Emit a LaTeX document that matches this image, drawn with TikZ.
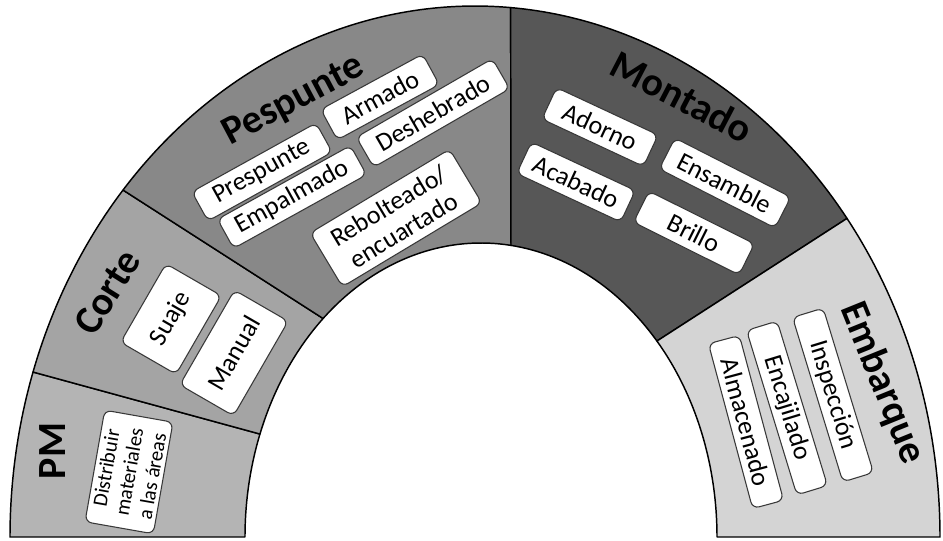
\documentclass[tikz,border=0pt]{standalone}
\usepackage{fontspec}
\setmainfont{Carlito}
\usetikzlibrary{calc}
\definecolor{pmc}{HTML}{B4B4B4}
\definecolor{cortec}{HTML}{A4A4A4}
\definecolor{pespc}{HTML}{888888}
\definecolor{montc}{HTML}{575757}
\definecolor{embc}{HTML}{D4D4D4}
\definecolor{boxline}{HTML}{383838}
\begin{document}
\begin{tikzpicture}[x=0.75pt,y=0.75pt,
  seg/.style={draw=black, line width=1.1pt, line join=round},
  box/.style={draw=boxline, fill=white, line width=0.8pt, rounded corners=5pt, inner sep=0pt, align=center, font=\fontsize{19.5}{21.5}\selectfont},
  smallbox/.style={box, font=\fontsize{15.5}{17.5}\selectfont},
  ttl/.style={font=\fontsize{30}{34}\selectfont\bfseries, inner sep=0pt}]
\useasboundingbox (0,0) rectangle (943,540);
\coordinate (Oc) at (475,3);
\coordinate (Ic) at (481,3);
% segments
\path[seg, fill=pmc] ($(Oc)+(180:465 and 531)$) arc[start angle=180, end angle=161.9, x radius=465, y radius=531] -- ($(Ic)+(159.5:236 and 294)$) arc[start angle=159.5, end angle=180, x radius=236, y radius=294] -- cycle;
\path[seg, fill=cortec] ($(Oc)+(161.9:465 and 531)$) arc[start angle=161.9, end angle=139.2, x radius=465, y radius=531] -- ($(Ic)+(132:236 and 294)$) arc[start angle=132, end angle=159.5, x radius=236, y radius=294] -- cycle;
\path[seg, fill=pespc] ($(Oc)+(139.2:465 and 531)$) arc[start angle=139.2, end angle=85.6, x radius=465, y radius=531] -- ($(Ic)+(82.7:236 and 294)$) arc[start angle=82.7, end angle=132, x radius=236, y radius=294] -- cycle;
\path[seg, fill=montc] ($(Oc)+(85.6:465 and 531)$) arc[start angle=85.6, end angle=36.87, x radius=465, y radius=531] -- ($(Ic)+(41.8:236 and 294)$) arc[start angle=41.8, end angle=82.7, x radius=236, y radius=294] -- cycle;
\path[seg, fill=embc] ($(Oc)+(36.87:465 and 531)$) arc[start angle=36.87, end angle=0, x radius=465, y radius=531] -- ($(Ic)+(0:236 and 294)$) arc[start angle=0, end angle=41.8, x radius=236, y radius=294] -- cycle;
% titles
\node[ttl, rotate=90] (tpm) at (53,89) {PM};
\node[ttl, rotate=58] (tcorte) at (107,248) {Corte};
\node[ttl, rotate=28] (tpesp) at (294,439) {Pespunte};
\node[ttl, rotate=-27.5] (tmont) at (682,443) {Montado};
\node[ttl, rotate=-68] (temb) at (882,157) {Embarque};
% PM
\node[smallbox, rotate=80, minimum width=85pt, minimum height=52pt] (dist) at (129,68) {Distribuir\\materiales\\a las áreas};
% Corte
\node[box, rotate=60, minimum width=68pt, minimum height=48pt] (suaje) at (171,221) {Suaje};
\node[box, rotate=60, minimum width=82pt, minimum height=46.5pt] (manual) at (234,187) {Manual};
% Pespunte
\node[box, rotate=29, minimum width=106.5pt, minimum height=25pt] (presp) at (262,368) {Prespunte};
\node[box, rotate=28.5, minimum width=87pt, minimum height=26pt] (armado) at (380,443) {Armado};
\node[box, rotate=29, minimum width=114pt, minimum height=25pt] (empal) at (292,343) {Empalmado};
\node[box, rotate=30, minimum width=117.8pt, minimum height=26pt] (deshe) at (433,427) {Deshebrado};
\node[box, rotate=31, minimum width=122pt, minimum height=47pt] (rebol) at (396,322) {Rebolteado/\\encuartado};
% Montado
\node[box, rotate=-25, minimum width=84pt, minimum height=26pt] (adorno) at (600,413) {Adorno};
\node[box, rotate=-27, minimum width=97.5pt, minimum height=26pt] (ensam) at (725,357) {Ensamble};
\node[box, rotate=-25, minimum width=86pt, minimum height=26pt] (acab) at (576,358) {Acabado};
\node[box, rotate=-26.5, minimum width=88.5pt, minimum height=26pt] (brillo) at (694,307) {Brillo};
% Embarque
\node[box, rotate=-73, minimum width=129pt, minimum height=24pt] (insp) at (833,145) {Inspección};
\node[box, rotate=-73, minimum width=129pt, minimum height=24pt] (encaj) at (787,132) {Encajilado};
\node[box, rotate=-75, minimum width=128pt, minimum height=24pt] (almac) at (746,118) {Almacenado};
\end{tikzpicture}
\end{document}
